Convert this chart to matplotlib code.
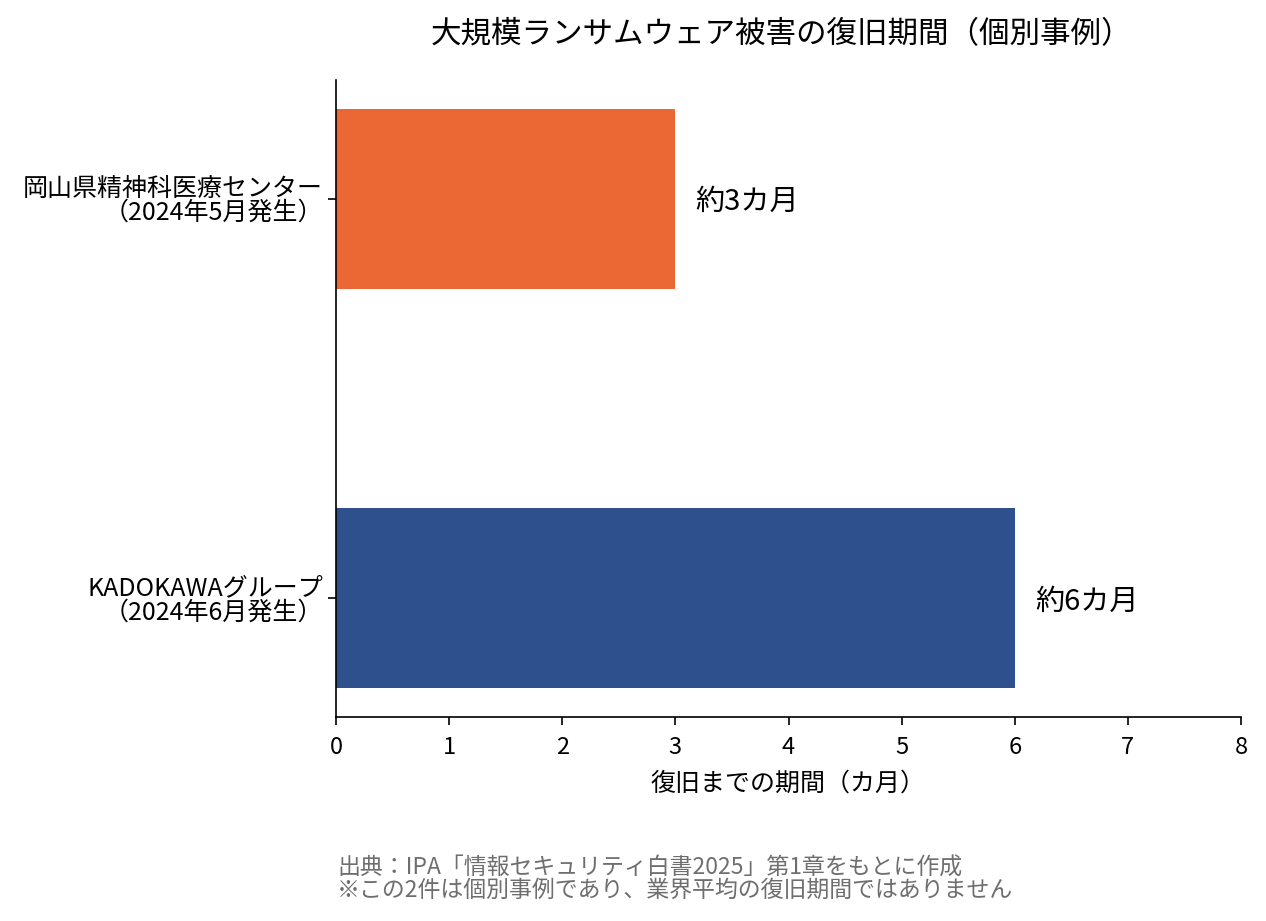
import matplotlib
matplotlib.use('Agg')
import matplotlib.pyplot as plt

plt.rcParams['font.family'] = ['Noto Sans CJK JP', 'DejaVu Sans']

categories = ['KADOKAWAグループ\n（2024年6月発生）', '岡山県精神科医療センター\n（2024年5月発生）']
months = [6, 3]
bar_labels = ['約6カ月', '約3カ月']
colors = ['#2E518E', '#EB6835']

fig = plt.figure(figsize=(12.66, 9.21), dpi=100)
ax = fig.add_axes([336 / 1266, 1 - 717 / 921, (1241 - 336) / 1266, (717 - 80) / 921])

ax.barh(range(len(categories)), months, height=0.45, color=colors)
for i, (v, lab) in enumerate(zip(months, bar_labels)):
    ax.text(v + 0.18, i - 0.008, lab, va='center', ha='left', fontsize=21)

ax.set_yticks(range(len(categories)))
ax.set_yticklabels(categories, fontsize=18, linespacing=0.9)
ax.set_xlim(0, 8)
ax.set_xticks(range(9))
ax.tick_params(axis='x', labelsize=17, length=6, width=1.2, pad=8)
ax.tick_params(axis='y', length=6, width=1.2)
ax.set_xlabel('復旧までの期間（カ月）', fontsize=18, labelpad=8)
ax.spines['top'].set_visible(False)
ax.spines['right'].set_visible(False)
ax.spines['left'].set_linewidth(1.2)
ax.spines['bottom'].set_linewidth(1.2)

fig.text(781 / 1266, 1 - 35 / 921, '大規模ランサムウェア被害の復旧期間（個別事例）',
         ha='center', va='center', fontsize=22)

fig.text(337 / 1266, 1 - 879 / 921,
         '出典：IPA「情報セキュリティ白書2025」第1章をもとに作成\n※この2件は個別事例であり、業界平均の復旧期間ではありません',
         ha='left', va='center', fontsize=16.5, color='#6e6e6e', linespacing=0.95)

fig.savefig('out.png', dpi=100)
